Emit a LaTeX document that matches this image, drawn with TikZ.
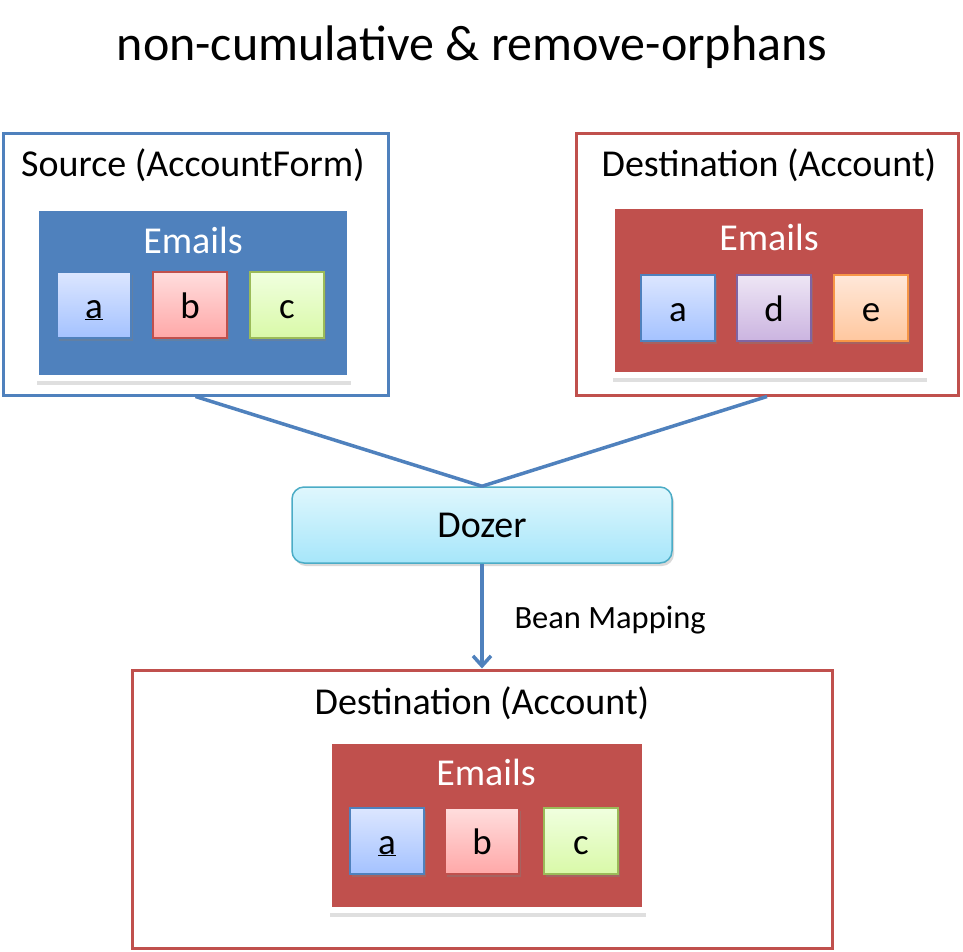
\documentclass[tikz,border=0pt]{standalone}
\usepackage{fontspec}
\setmainfont{Carlito}
\usetikzlibrary{shadows,arrows.meta}
\definecolor{accblue}{HTML}{4F81BD}
\definecolor{accred}{HTML}{C0504D}
\definecolor{accgreen}{HTML}{9BBB59}
\definecolor{accpurple}{HTML}{8064A2}
\definecolor{accorange}{HTML}{F79646}
\definecolor{accaqua}{HTML}{4BACC6}
\definecolor{bluetop}{HTML}{DCE6FF}
\definecolor{bluebot}{HTML}{A4C2FF}
\definecolor{redtop}{HTML}{FFDDDD}
\definecolor{redbot}{HTML}{FFA8A8}
\definecolor{greentop}{HTML}{F0FFDF}
\definecolor{greenbot}{HTML}{D9F9A8}
\definecolor{purptop}{HTML}{EEE6F5}
\definecolor{purpbot}{HTML}{CBB4E0}
\definecolor{orangetop}{HTML}{FFE8D9}
\definecolor{orangebot}{HTML}{FFC79F}
\definecolor{aquatop}{HTML}{DFF7FD}
\definecolor{aquabot}{HTML}{A6E6FA}

\begin{document}
\begin{tikzpicture}[x=1pt,y=-1pt,
		frame/.style={draw=#1, line width=3pt, inner sep=0pt},
		panel/.style={fill=#1, draw=white, line width=6pt, inner sep=0pt,
			drop shadow={opacity=0.25, shadow xshift=1pt, shadow yshift=-7pt}},
		item/.style n args={3}{draw=#1, top color=#2, bottom color=#3, line width=1.5pt,
			minimum width=74pt, minimum height=66pt, inner sep=0pt,
			text height=30pt, text depth=4pt,
			font=\fontsize{37}{44}\selectfont,
			drop shadow={opacity=0.4, shadow xshift=2pt, shadow yshift=-3pt}},
		big/.style={font=\fontsize{38}{46}\selectfont},
		link/.style={draw=accblue, line width=3.5pt}]
		\useasboundingbox (0,0) rectangle (963,951);
		
		\node[font=\fontsize{50}{60}\selectfont] (title) at (472,47) {non-cumulative \& remove-orphans};
		
		% source
		\node[frame=accblue, minimum width=385pt, minimum height=262pt] (src) at (195.5,264) {};
		\node[big] (srclabel) at (193,165) {Source (AccountForm)};
		\node[panel=accblue, minimum width=314pt, minimum height=170pt] (srcpanel) at (193,293) {};
		\node[big, text=white] (srcemails) at (193,240) {Emails};
		\node[item={accblue}{bluetop}{bluebot}] (srca) at (94,305) {\underline{a}};
		\node[item={accred}{redtop}{redbot}] (srcb) at (190,305) {b};
		\node[item={accgreen}{greentop}{greenbot}] (srcc) at (287,305) {c};
		
		% destination
		\node[frame=accred, minimum width=382pt, minimum height=262pt] (dst) at (767,264) {};
		\node[big] (dstlabel) at (769,165) {Destination (Account)};
		\node[panel=accred, minimum width=314pt, minimum height=169pt] (dstpanel) at (769,290) {};
		\node[big, text=white] (dstemails) at (769,237) {Emails};
		\node[item={accblue}{bluetop}{bluebot}] (dsta) at (678,308) {a};
		\node[item={accpurple}{purptop}{purpbot}] (dstd) at (774,308) {d};
		\node[item={accorange}{orangetop}{orangebot}] (dste) at (871,308) {e};
		
		% dozer
		\node[draw=accaqua, line width=1.5pt, rounded corners=12pt, top color=aquatop, bottom color=aquabot,
			minimum width=380pt, minimum height=76pt, big,
			drop shadow={opacity=0.3, shadow xshift=2pt, shadow yshift=-3pt}] (dozer) at (482,525) {Dozer};
		
		% result
		\node[frame=accred, minimum width=700pt, minimum height=278pt] (res) at (482,809) {};
		\node[big] (reslabel) at (482,703) {Destination (Account)};
		\node[panel=accred, minimum width=316pt, minimum height=169pt] (respanel) at (487,825.5) {};
		\node[big, text=white] (resemails) at (486,772) {Emails};
		\node[item={accblue}{bluetop}{bluebot}] (resa) at (387,841) {\underline{a}};
		\node[item={accred}{redtop}{redbot}] (resb) at (482,841) {b};
		\node[item={accgreen}{greentop}{greenbot}] (resc) at (581,841) {c};
		
		\draw[link] (src.south) -- (dozer.north);
		\draw[link] (dst.south) -- (dozer.north);
		\draw[link, -{Straight Barb[length=10pt,width=18pt]}] (dozer.south) -- (res.north);
		\node[anchor=west, font=\fontsize{32.5}{40}\selectfont] (mapping) at (511,620) {Bean Mapping};
	\end{tikzpicture}
\end{document}
